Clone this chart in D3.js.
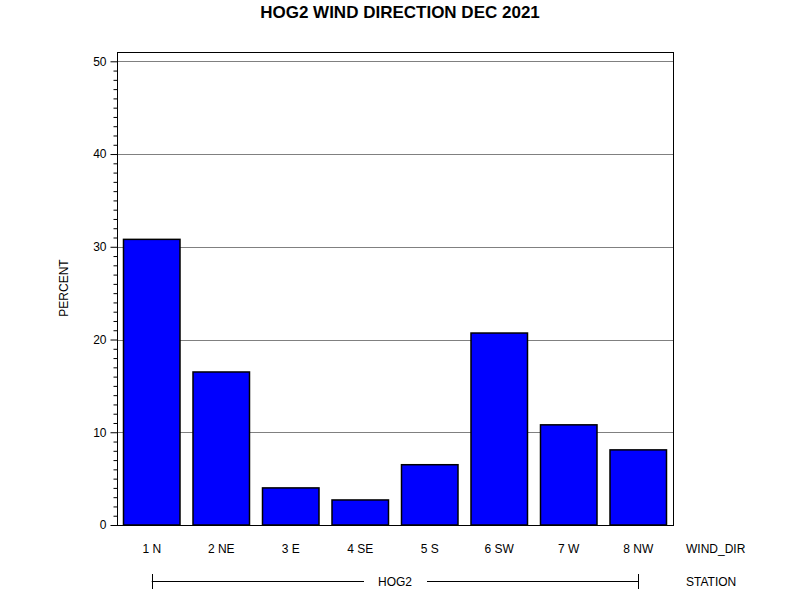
<!DOCTYPE html>
<html>
<head>
<meta charset="utf-8">
<script src="https://cdn.jsdelivr.net/npm/d3@7"></script>
<style>
  body { margin: 0; background: #fff; }
  text { font-family: "Liberation Sans", Arial, sans-serif; }
</style>
</head>
<body>
<svg id="chart" width="800" height="600"></svg>
<script>
const categories = ["1 N", "2 NE", "3 E", "4 SE", "5 S", "6 SW", "7 W", "8 NW"];
const values = [30.8, 16.5, 4.0, 2.7, 6.5, 20.7, 10.8, 8.1];
const yTicks = [0, 10, 20, 30, 40, 50];
const minorTicks = d3.range(0, 51, 1);
const title = "HOG2 WIND DIRECTION DEC 2021";
const station = "HOG2";

(function () {
const svg = d3.select("#chart");
const pLeft = 117, pRight = 673, pTop = 52, pBottom = 525;

const x = d3.scaleBand().domain(categories).range([pLeft, pRight])
  .paddingInner(0.187).paddingOuter(0.0935);
const y = d3.scaleLinear().domain([0, 50]).range([pBottom, 61.3]);

svg.append("rect").attr("width", 800).attr("height", 600).attr("fill", "#fff");

// title
svg.append("text").attr("x", 400).attr("y", 18).attr("text-anchor", "middle")
  .attr("font-size", 17).attr("font-weight", "bold").text(title);

// grid lines
svg.append("g").selectAll("line").data(yTicks.filter(d => d > 0)).join("line")
  .attr("x1", pLeft).attr("x2", pRight)
  .attr("y1", d => Math.round(y(d)) + 0.5).attr("y2", d => Math.round(y(d)) + 0.5)
  .attr("stroke", "#808080").attr("stroke-width", 1);

// bars
svg.append("g").selectAll("rect").data(values).join("rect")
  .attr("x", (d, i) => x(categories[i]))
  .attr("y", d => y(d))
  .attr("width", x.bandwidth())
  .attr("height", d => pBottom - y(d))
  .attr("fill", "#0000ff").attr("stroke", "#000").attr("stroke-width", 1.5);

// frame
svg.append("rect").attr("x", pLeft + 0.5).attr("y", pTop + 0.5)
  .attr("width", pRight - pLeft).attr("height", pBottom - pTop)
  .attr("fill", "none").attr("stroke", "#000").attr("stroke-width", 1);

// y axis major ticks
const yAxis = d3.axisLeft(y).tickValues(yTicks).tickSize(7).tickPadding(4).tickFormat(d3.format("d"));
const gy = svg.append("g").attr("transform", `translate(${pLeft + 0.5},0)`).call(yAxis);
gy.select(".domain").remove();
gy.selectAll("text").attr("font-size", 12).attr("font-family", "Liberation Sans, Arial, sans-serif").attr("fill", "#000");
gy.selectAll("line").attr("stroke", "#000");

// minor ticks
const yMinor = d3.axisLeft(y).tickValues(minorTicks.filter(d => d % 10 !== 0)).tickSize(4).tickFormat("");
const gm = svg.append("g").attr("transform", `translate(${pLeft + 0.5},0)`).call(yMinor);
gm.select(".domain").remove();
gm.selectAll("line").attr("stroke", "#000");

// y label
svg.append("text").attr("transform", "translate(68,288) rotate(-90)")
  .attr("text-anchor", "middle").attr("font-size", 12).text("PERCENT");

// x category labels
const xAxis = d3.axisBottom(x).tickSize(0).tickPadding(0);
const gx = svg.append("g").attr("transform", `translate(0,${pBottom + 28})`).call(xAxis);
gx.select(".domain").remove();
gx.selectAll("text").attr("font-size", 12).attr("font-family", "Liberation Sans, Arial, sans-serif").attr("fill", "#000").attr("dy", 0);

svg.append("text").attr("x", 686).attr("y", 553).attr("font-size", 12).text("WIND_DIR");
svg.append("text").attr("x", 686).attr("y", 586).attr("font-size", 12).text("STATION");

// station bracket
const x1 = x(categories[0]) + x.bandwidth() / 2;
const x2 = x(categories[categories.length - 1]) + x.bandwidth() / 2;
const sy = 581.5;
const mid = (x1 + x2) / 2;
const g = svg.append("g").attr("stroke", "#000").attr("stroke-width", 1);
g.append("line").attr("x1", Math.round(x1) + 0.5).attr("x2", Math.round(x1) + 0.5).attr("y1", 574).attr("y2", 589);
g.append("line").attr("x1", Math.round(x2) + 0.5).attr("x2", Math.round(x2) + 0.5).attr("y1", 574).attr("y2", 589);
g.append("line").attr("x1", x1).attr("x2", mid - 31).attr("y1", sy).attr("y2", sy);
g.append("line").attr("x1", mid + 32).attr("x2", x2).attr("y1", sy).attr("y2", sy);
svg.append("text").attr("x", mid).attr("y", 586).attr("text-anchor", "middle").attr("font-size", 12).text(station);
})();
</script>
</body>
</html>
